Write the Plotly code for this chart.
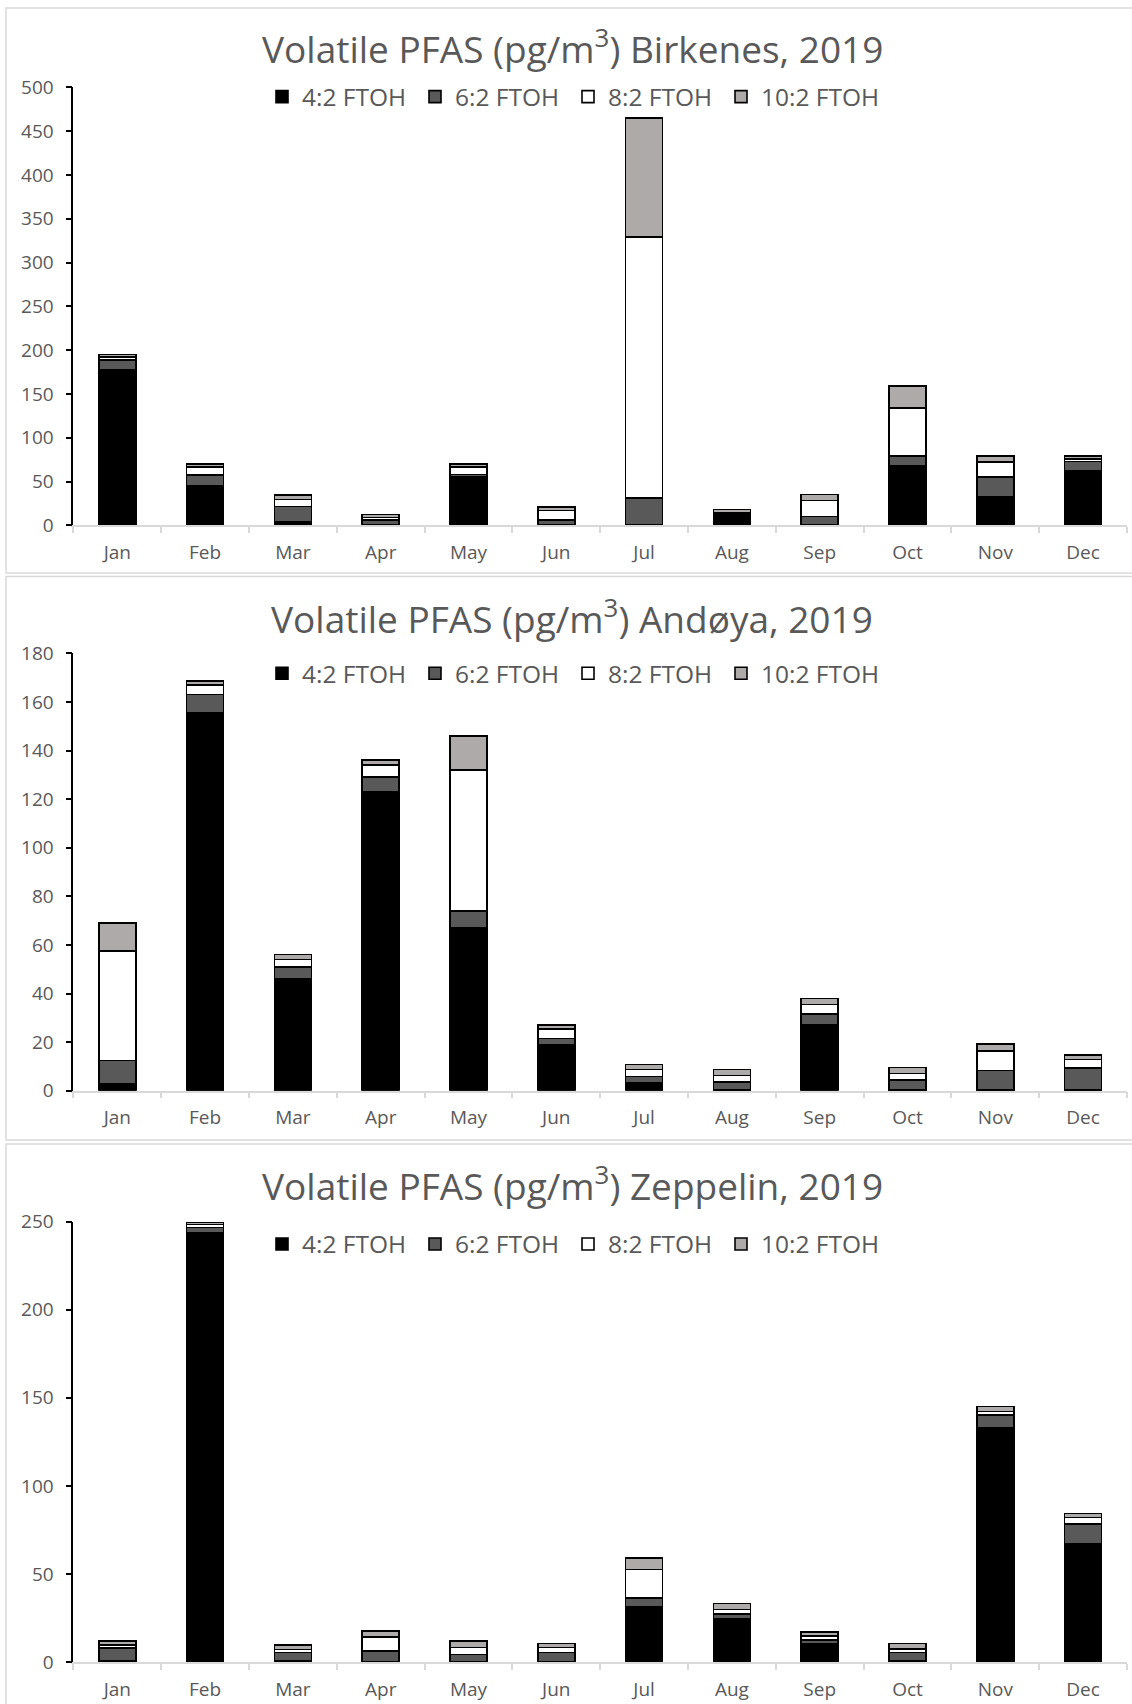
import plotly.graph_objects as go

# ---- data -------------------------------------------------------------
months = ["Jan", "Feb", "Mar", "Apr", "May", "Jun",
          "Jul", "Aug", "Sep", "Oct", "Nov", "Dec"]
series_names = ["4:2 FTOH", "6:2 FTOH", "8:2 FTOH", "10:2 FTOH"]

birkenes_42 = [178, 45, 3.5, 1, 55.5, 1, 1, 11, 0.5, 68, 33, 62]
birkenes_62 = [11, 12.5, 18, 5, 2.5, 5, 30, 1, 9.5, 11, 22, 11]
birkenes_82 = [3, 9, 8, 3, 8.5, 11, 298, 2, 18.5, 55, 17, 3]
birkenes_102 = [3, 3.5, 5, 3.2, 3.5, 4, 136, 4, 6.5, 25, 7, 3]

andoya_42 = [3, 155.5, 46, 123, 67, 19, 3.3, 0.4, 27, 0.4, 0.3, 0.3]
andoya_62 = [9.5, 7.5, 5, 6, 7, 2.5, 2.5, 3.2, 4.5, 4, 8, 9]
andoya_82 = [45, 4, 3, 5, 58, 4, 3, 2.6, 4, 2.7, 8, 3.5]
andoya_102 = [11.5, 1.5, 2, 2, 14, 1.5, 2, 2.5, 2.4, 2.5, 3, 2]

zeppelin_42 = [0.5, 243.8, 0.5, 0.3, 0.3, 0.3, 31.5, 24.3, 10.6, 0.5, 132.7, 67]
zeppelin_62 = [7.5, 3, 5, 6, 4, 5, 5, 3, 2, 5, 7.5, 11.5]
zeppelin_82 = [1.5, 1.5, 1.5, 8, 4, 3, 16, 2.6, 2, 2, 2, 3.5]
zeppelin_102 = [2.3, 1.3, 2.7, 3.3, 3.5, 2.1, 6.5, 3.3, 2.4, 2.9, 2.8, 2.4]

# ---- styling ----------------------------------------------------------
W, H = 1132, 1704
FONT = "Open Sans"
TEXT = "#595959"
GRID = "#d9d9d9"
series_colors = ["#000000", "#595959", "#FFFFFF", "#AEAAAA"]
# legend text slot per entry (last one is longer)
entry_widths = [108, 108, 108, 135]


def fx(px):
    return px / W


def fy(px):
    return 1 - px / H


panels = [
    dict(station="Birkenes",
         values=[birkenes_42, birkenes_62, birkenes_82, birkenes_102],
         ymax=500, dtick=50, top=87.3, zero=525.3,
         title_y=47.0, legend_y=96.7, box=(8, 573)),
    dict(station="Andøya",
         values=[andoya_42, andoya_62, andoya_82, andoya_102],
         ymax=180, dtick=20, top=653.3, zero=1090.7,
         title_y=616.5, legend_y=673.3, box=(576.5, 1140)),
    dict(station="Zeppelin",
         values=[zeppelin_42, zeppelin_62, zeppelin_82, zeppelin_102],
         ymax=250, dtick=50, top=1221.7, zero=1662.0,
         title_y=1183.5, legend_y=1244.0, box=(1144, 1730)),
]

x_left, x_right = 73.4, 1127.0

fig = go.Figure()
layout = dict(
    width=W, height=H, autosize=False,
    margin=dict(l=0, r=0, t=0, b=0, pad=0, autoexpand=False),
    paper_bgcolor="white", plot_bgcolor="white",
    barmode="stack", bargap=0.58,
    font=dict(family=FONT, color=TEXT),
    annotations=[], shapes=[],
)

for i, p in enumerate(panels):
    n = "" if i == 0 else str(i + 1)
    legend_id = "legend" + n
    for name, vals, col, ew in zip(series_names, p["values"],
                                   series_colors, entry_widths):
        fig.add_trace(go.Bar(
            x=months, y=vals, name=name,
            xaxis="x" + n, yaxis="y" + n,
            marker=dict(color=col, line=dict(color="#000000", width=1.6)),
            legend=legend_id, legendwidth=ew, hoverinfo="skip",
        ))

    layout["xaxis" + n] = dict(
        domain=[fx(x_left), fx(x_right)], anchor="y" + n,
        type="category", categoryorder="array", categoryarray=months,
        showline=True, linecolor=GRID, linewidth=1.5,
        ticks="outside", tickson="boundaries", tickcolor=GRID,
        ticklen=6, tickwidth=1.5, showgrid=False, zeroline=False,
        tickfont=dict(size=19, color=TEXT, family=FONT),
        ticklabelstandoff=9, automargin=False, fixedrange=True,
    )
    layout["yaxis" + n] = dict(
        domain=[fy(p["zero"]), fy(p["top"])], anchor="x" + n,
        range=[0, p["ymax"]], dtick=p["dtick"], tick0=0,
        showline=True, linecolor="#000000", linewidth=1.8,
        ticks="outside", tickcolor="#000000", ticklen=6, tickwidth=1.5,
        showgrid=False, zeroline=False,
        tickfont=dict(size=19, color=TEXT, family=FONT),
        ticklabelstandoff=8, automargin=False, fixedrange=True,
    )
    layout[legend_id] = dict(
        orientation="h", xref="paper", yref="paper",
        x=fx(262), xanchor="left", y=fy(p["legend_y"]), yanchor="middle",
        font=dict(size=24.5, color=TEXT, family=FONT),
        bgcolor="rgba(0,0,0,0)", borderwidth=0,
        traceorder="normal",
    )
    layout["annotations"].append(dict(
        text="Volatile PFAS (pg/m<sup>3</sup>) %s, 2019" % p["station"],
        xref="paper", yref="paper", x=fx(572), y=fy(p["title_y"]),
        xanchor="center", yanchor="middle", showarrow=False,
        font=dict(size=37, color=TEXT, family=FONT),
    ))
    top_px, bottom_px = p["box"]
    layout["shapes"].append(dict(
        type="rect", xref="paper", yref="paper",
        x0=fx(6), x1=fx(1160), y0=fy(bottom_px), y1=fy(top_px),
        line=dict(color=GRID, width=1.5), fillcolor="rgba(0,0,0,0)",
        layer="below",
    ))

fig.update_layout(**layout)
fig.write_html("out.html")
